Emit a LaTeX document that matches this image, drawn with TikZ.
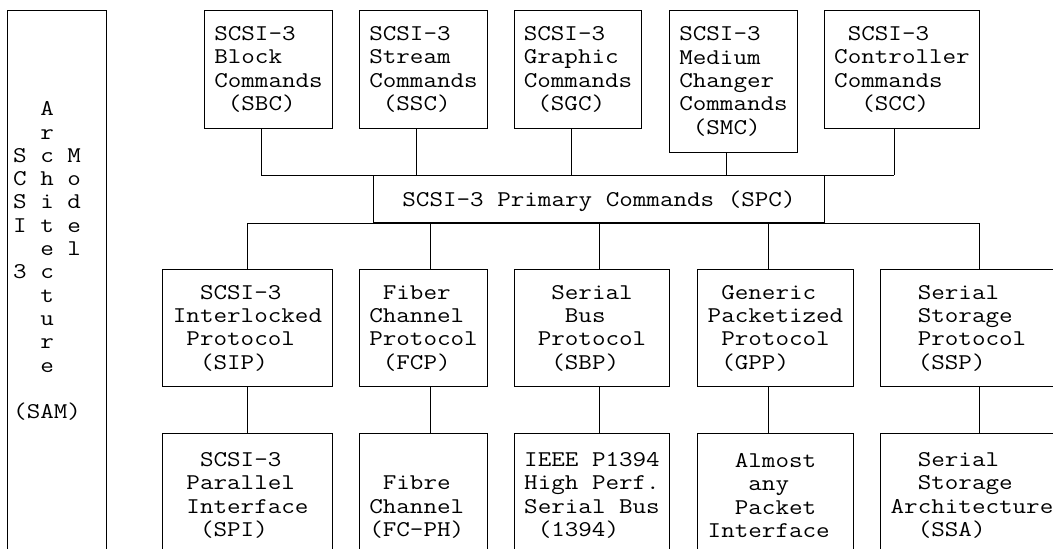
\documentclass[tikz,border=0pt]{standalone}
\usepackage{fontspec}
\setmonofont{Latin Modern Mono}[FakeStretch=1.17]

\newcommand\blnk{\phantom{0}}

\tikzset{
  unit/.style={draw, line width=1pt, anchor=north west, align=left, inner sep=0pt,
    font=\ttfamily\fontsize{22.5}{23.3}\selectfont},
  topunit/.style={unit, execute at begin node=\rule{0pt}{21pt}},
  link/.style={line width=1pt}
}

\begin{document}
\begin{tikzpicture}[x=1pt, y=-1pt]
\useasboundingbox (0,0) rectangle (1053,549);
\clip (0,0) rectangle (1053,549);
% architecture model column
\node[unit, minimum width=99pt, minimum height=560pt] (sam) at (7,10) {};
\node[anchor=north west, inner sep=0pt, align=left,
  font=\ttfamily\fontsize{22.5}{23.3}\selectfont] (samtext) at (13,101.5)
  {\blnk\blnk A\\\blnk\blnk r\\S c M\\C h o\\S i d\\I t e\\\blnk\blnk e l\\3 c\\
   \blnk\blnk t\\\blnk\blnk u\\\blnk\blnk r\\\blnk\blnk e\\\blnk\\(SAM)};
% command sets
\node[topunit, minimum width=128pt, minimum height=118pt] (sbc) at (204,10)
  {SCSI-3\\Block\\Commands\\\blnk(SBC)};
\node[topunit, minimum width=128pt, minimum height=118pt] (ssc) at (359,10)
  {SCSI-3\\Stream\\Commands\\\blnk(SSC)};
\node[topunit, minimum width=127pt, minimum height=118pt] (sgc) at (514,10)
  {SCSI-3\\Graphic\\Commands\\\blnk(SGC)};
\node[topunit, minimum width=128pt, minimum height=142pt] (smc) at (669,10)
  {SCSI-3\\Medium\\Changer\\Commands\\\blnk(SMC)};
\node[topunit, minimum width=155pt, minimum height=118pt] (scc) at (824,10)
  {\blnk SCSI-3\\Controller\\Commands\\\blnk\blnk(SCC)};
\node[topunit, minimum width=451pt, minimum height=47pt] (spc) at (373,175)
  {SCSI-3 Primary Commands (SPC)};
% protocols
\node[unit, minimum width=170pt, minimum height=117pt] (sip) at (162,269)
  {\blnk\blnk SCSI-3\\Interlocked\\\blnk Protocol\\\blnk\blnk(SIP)};
\node[unit, minimum width=128pt, minimum height=117pt] (fcp) at (359,269)
  {\blnk Fiber\\Channel\\Protocol\\\blnk(FCP)};
\node[unit, minimum width=155pt, minimum height=117pt] (sbp) at (514,269)
  {\blnk Serial\\\blnk\blnk Bus\\Protocol\\\blnk(SBP)};
\node[unit, minimum width=156pt, minimum height=117pt] (gpp) at (697,269)
  {\blnk Generic\\Packetized\\\blnk Protocol\\\blnk(GPP)};
\node[unit, minimum width=183pt, minimum height=117pt] (ssp) at (880,269)
  {Serial\\Storage\\Protocol\\(SSP)};
% interconnects
\node[unit, minimum width=170pt, minimum height=124pt] (spi) at (162,433)
  {\blnk SCSI-3\\Parallel\\Interface\\\blnk(SPI)};
\node[unit, minimum width=128pt, minimum height=124pt] (fcph) at (359,433)
  {\blnk\\\blnk Fibre\\Channel\blnk\\(FC-PH)};
\node[unit, minimum width=155pt, minimum height=124pt] (ieee) at (514,433)
  {IEEE P1394\\High Perf.\\Serial Bus\\\blnk(1394)};
\node[unit, minimum width=156pt, minimum height=124pt] (any) at (697,433)
  {\blnk\blnk Almost\\\blnk\blnk\blnk any\\\blnk\blnk Packet\\Interface\blnk};
\node[unit, minimum width=183pt, minimum height=124pt] (ssa) at (880,433)
  {\blnk\blnk Serial\\\blnk\blnk Storage\\Architecture\\\blnk\blnk(SSA)};
% buses
\draw[link] (261,0 |- spc.north) -- (894,0 |- spc.north);
\draw[link] (247,0 |- spc.south) -- (979,0 |- spc.south);
\foreach \n/\x in {sbc/261, ssc/416, sgc/571, smc/726, scc/894}
  \draw[link] (\x,0 |- \n.south) -- (\x,0 |- spc.north);
\foreach \p/\q/\x in {sip/spi/247, fcp/fcph/430, sbp/ieee/599, gpp/any/768, ssp/ssa/979} {
  \draw[link] (\x,0 |- spc.south) -- (\x,0 |- \p.north);
  \draw[link] (\x,0 |- \p.south) -- (\x,0 |- \q.north);
}
\end{tikzpicture}
\end{document}
